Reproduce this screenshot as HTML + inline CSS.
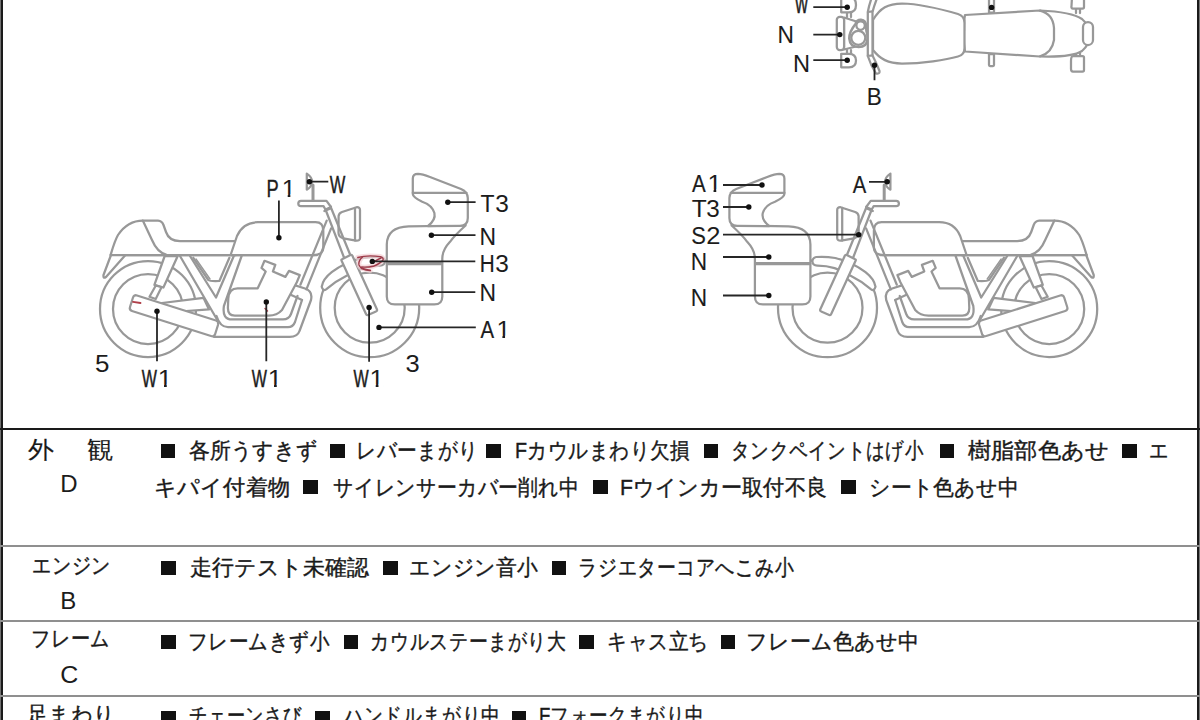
<!DOCTYPE html>
<html lang="ja"><head><meta charset="utf-8"><title>inspection</title>
<style>
html,body{margin:0;padding:0;background:#fff;}
body{width:1200px;height:720px;position:relative;overflow:hidden;font-family:"Liberation Sans",sans-serif;color:#1a1a1a;}
.t{position:absolute;white-space:nowrap;font-size:22px;line-height:22px;transform-origin:0 0;-webkit-text-stroke:0.4px #1a1a1a;}
.sq{position:absolute;width:14.5px;height:13.5px;background:#111;}
.hl{position:absolute;left:0;width:1200px;height:2px;background:#8f8f8f;}
.lb{position:absolute;white-space:nowrap;font-size:24px;line-height:24px;color:#1c1c1c;transform-origin:0 0;}
</style></head><body>

<div style="position:absolute;left:0;top:0;width:1px;height:720px;background:#707070"></div>
<div style="position:absolute;left:1px;top:0;width:2px;height:720px;background:#1a1a1a"></div>
<div style="position:absolute;left:1197px;top:0;width:2px;height:720px;background:#1a1a1a"></div>
<div style="position:absolute;left:1199px;top:0;width:1px;height:720px;background:#777"></div>
<div style="position:absolute;left:0;top:427.8px;width:1200px;height:2.4px;background:#1a1a1a"></div>
<div class="hl" style="top:544.5px"></div>
<div class="hl" style="top:619.5px"></div>
<div class="hl" style="top:695px"></div>
<span class="t" id="t0" style="left:189.05px;top:440.00px;transform:scaleX(0.9474)">各所うすきず</span>
<span class="t" id="t1" style="left:355.84px;top:440.00px;transform:scaleX(0.8957)">レバーまがり</span>
<span class="t" id="t2" style="left:515.21px;top:440.00px;transform:scaleX(0.8946)">Fカウルまわり欠損</span>
<span class="t" id="t3" style="left:731.02px;top:440.00px;transform:scaleX(0.8389)">タンクペイントはげ小</span>
<span class="t" id="t4" style="left:968.00px;top:440.00px;transform:scaleX(1.0568)">樹脂部色あせ</span>
<span class="t" id="t5" style="left:1149.15px;top:440.00px;transform:scaleX(0.8713)">エ</span>
<span class="t" id="t6" style="left:153.99px;top:477.00px;transform:scaleX(1.0059)">キパイ付着物</span>
<span class="t" id="t7" style="left:332.62px;top:477.00px;transform:scaleX(0.9039)">サイレンサーカバー削れ中</span>
<span class="t" id="t8" style="left:620.06px;top:477.00px;transform:scaleX(0.9599)">Fウインカー取付不良</span>
<span class="t" id="t9" style="left:869.15px;top:477.00px;transform:scaleX(0.9474)">シート色あせ中</span>
<span class="t" id="t10" style="left:189.80px;top:557.00px;transform:scaleX(0.9972)">走行テスト未確認</span>
<span class="t" id="t11" style="left:409.29px;top:557.00px;transform:scaleX(0.9475)">エンジン音小</span>
<span class="t" id="t12" style="left:578.11px;top:557.00px;transform:scaleX(0.8589)">ラジエターコアへこみ小</span>
<span class="t" id="t13" style="left:187.58px;top:631.00px;transform:scaleX(0.8878)">フレームきず小</span>
<span class="t" id="t14" style="left:370.08px;top:631.00px;transform:scaleX(0.8594)">カウルステーまがり大</span>
<span class="t" id="t15" style="left:606.98px;top:631.00px;transform:scaleX(0.8936)">キャス立ち</span>
<span class="t" id="t16" style="left:746.09px;top:631.00px;transform:scaleX(0.9545)">フレーム色あせ中</span>
<span class="t" id="t17" style="left:189.17px;top:705.00px;transform:scaleX(0.8260)">チェーンさび</span>
<span class="t" id="t18" style="left:344.14px;top:705.00px;transform:scaleX(0.8521)">ハンドルまがり中</span>
<span class="t" id="t19" style="left:539.31px;top:705.00px;transform:scaleX(0.8421)">Fフォークまがり中</span>
<span class="t" id="t20" style="left:28.42px;top:437.50px;transform:scaleX(1.0846);font-size:24px;line-height:24px;-webkit-text-stroke:0.15px #1a1a1a">外</span>
<span class="t" id="t21" style="left:86.82px;top:438.00px;transform:scaleX(1.0936);font-size:24px;line-height:24px;-webkit-text-stroke:0.15px #1a1a1a">観</span>
<span class="t" id="t22" style="left:32.10px;top:555.00px;transform:scaleX(0.8621)">エンジン</span>
<span class="t" id="t23" style="left:31.26px;top:628.00px;transform:scaleX(0.8721)">フレーム</span>
<span class="t" id="t24" style="left:27.31px;top:704.00px;transform:scaleX(0.9690)">足まわり</span>
<div class="sq" style="left:160.5px;top:444.0px"></div>
<div class="sq" style="left:330.0px;top:444.0px"></div>
<div class="sq" style="left:486.0px;top:444.0px"></div>
<div class="sq" style="left:703.8px;top:444.0px"></div>
<div class="sq" style="left:939.5px;top:444.0px"></div>
<div class="sq" style="left:1122.0px;top:444.0px"></div>
<div class="sq" style="left:303.0px;top:480.0px"></div>
<div class="sq" style="left:593.0px;top:480.0px"></div>
<div class="sq" style="left:841.0px;top:480.0px"></div>
<div class="sq" style="left:161.0px;top:561.0px"></div>
<div class="sq" style="left:383.3px;top:561.0px"></div>
<div class="sq" style="left:551.6px;top:561.0px"></div>
<div class="sq" style="left:161.0px;top:635.0px"></div>
<div class="sq" style="left:343.9px;top:635.0px"></div>
<div class="sq" style="left:579.3px;top:635.0px"></div>
<div class="sq" style="left:720.7px;top:635.0px"></div>
<div class="sq" style="left:161.0px;top:711.0px"></div>
<div class="sq" style="left:315.0px;top:711.0px"></div>
<div class="sq" style="left:511.9px;top:711.0px"></div>
<svg style="position:absolute;left:0;top:0" width="1200" height="720" viewBox="0 0 1200 720">
<defs>
<g id="bk" fill="#fff" stroke="#989898" stroke-width="2.25" stroke-linejoin="round" stroke-linecap="round">
 <!-- wheels -->
 <circle cx="148" cy="309" r="48"/>
 <circle cx="148" cy="309" r="35"/>
 <circle cx="369.7" cy="307.7" r="49.5"/>
 <circle cx="369.7" cy="307.7" r="35"/>
 <!-- white cover right of V -->
 <path stroke="none" d="M180,256 L262,256 L262,345 L220,340 L218.5,322 Z"/>
 <!-- frame V and battery box -->
 <path fill="none" d="M180,256 L218.5,322"/>
 <path fill="none" d="M190,256 L216,297.5 L233.8,256"/>
 <path fill="none" d="M193.3,257.8 L208.3,280 Q210,281.5 219.4,281 L229.4,257.8"/>
 <path fill="none" stroke-width="1.4" d="M196,259 L210,279"/>
 <!-- shock -->
 <path d="M164.7,256 L177.7,256 L163.4,287.5 L154.4,284.9 Z"/>
 <path d="M155.8,285.5 L161.5,287.3 L155.7,299 L149.5,296.8 Z"/>
 <!-- swingarm -->
 <path d="M150,304.5 L203.5,297.8 L209,309.4 L160,313 Z"/>
 <!-- exhaust pipes -->
 <path fill="none" d="M241.6,256 L223.9,306 Q222,319.4 232,319.4 L283,319.4 Q289,319.4 291,314 L297.5,296"/>
 <path fill="none" d="M216.5,316 Q220,327.2 228,327.2 L288,327.2 Q293,327.2 295,322 L302,300"/>
 <path fill="none" d="M214,336.9 L289.75,336.9 Q297.5,336.9 299.5,331 L311,300 Q313,291 305,288.5 L293,284.6 Q289.5,284 288.5,288 L287,293 L302,300"/>
 <!-- engine -->
 <path d="M264.5,260.8 L275.3,264.9 L272.9,271.5 L285.4,276.9 L289,270.9 L299.8,275.1 L296.8,282.3 L282,310 Q277,315.6 268.7,315.6 L234.8,315.6 Q227.9,315.6 227.9,308 L228.3,298.3 Q229,288.3 237.5,288.3 L257.7,288.3 L265.7,271.5 L261.5,267.9 Z"/>
 <!-- muffler -->
 <path d="M137,295.5 L216,320.5 Q219,321.5 218,325 L215,334.5 Q214,337 211,336 L132,311 Q129,310 130,307 L133,297.5 Q134,294.5 137,295.5 Z"/>
 <!-- seat/tail -->
 <path d="M110.6,255 C113,247 115,240 118,235 C124,226 133,220.6 143,220.6 L158,220.6 Q162,220.8 163.5,225 L166,232 Q169,241 180,241 L236,241 L236,255 Z"/>
 <path fill="none" d="M142.8,220.6 L152,240 Q157,252 166,254.5"/>
 <path d="M111,255 L103.5,275 Q103,279 106,277 L125,255.5"/>
 <path fill="none" d="M110.6,255 L317,255"/>
 <!-- tank -->
 <path d="M230.6,255 L237,236 Q243,222.2 258,222.2 L315.6,222.2 Q323.3,222.2 323.3,230.6 L323.3,248.3 Q323,255 313.3,255 Z"/>
 <!-- down tube -->
 <path fill="none" d="M326.7,220.6 L300.4,284.7"/>
 <path fill="none" d="M331.1,228.3 L306.4,289.4"/>
 <!-- fender -->
 <path d="M321.7,286.7 Q323,279 331.7,272.2 Q345,262 362,258 Q372,256.2 381,257 Q384.8,257.8 384.8,261.5 Q384.5,265.6 380,265.6 Q362,265.5 347,275.6 Q336,281 326.1,289.4 Q323,291.5 321.7,286.7 Z"/>
 <!-- headlight -->
 <path d="M338.6,216 Q339,213 342,212 L356.7,207.2 Q360,207 360,210 L360,238 Q360,241 356,240.6 L343.3,238.3 Q338.5,237 338.5,232.8 Z"/>
 <path fill="none" d="M355,207.8 V240.6"/>
 <!-- fork upper -->
 <path fill="none" d="M325.5,209.5 L344,257.5"/>
 <path fill="none" d="M330.5,206.5 L350.5,255.5"/>
 <path fill="none" d="M324.4,211 L330.5,208.5"/>
 <!-- handlebar -->
 <path d="M301,200.8 L326.5,200.8 L331,207 L325.5,209.5 L323.5,206.2 L301,206.2 A2.7,2.7 0 0 1 301,200.8 Z"/>
 <!-- fork slider -->
 <path d="M342.5,259 L350.5,255 Q352,254.5 352.5,256 L377,309.5 Q377.5,311 376,311.5 L368,315 Q366.5,315.5 366,314 L341.5,260.5 Q341,259.5 342.5,259 Z"/>
 <!-- mirror -->
 <path fill="none" stroke-width="3" d="M313,185 V200"/>
 <path d="M306.8,173.6 Q312.5,177.5 312,182 Q311.5,187.5 306.8,189.6 Z"/>
 <!-- lower fairing -->
 <path d="M408.7,226.3 L465.6,225.5 Q455,235 450,241.8 Q442.3,250 442.3,258.6 L442.3,296.4 Q442.3,304.4 434.3,304.4 L394.8,304.4 Q386.8,304.4 386.8,296.4 L386.8,244.4 Q387,227 408.7,226.3 Z"/>
 <path fill="none" stroke-width="3.2" d="M387.5,263.7 H441.5"/>
 <!-- upper fairing -->
 <path d="M412.8,178.5 Q412.8,173.9 418,173.9 Q422,174 430,177 L461,189 Q467.8,192 467.8,198 L467.8,218 Q467.8,225.8 460,225.8 L427.8,226.1 Q436,220 434.4,213 Q432,205 422.2,201.7 Q412.8,197 412.8,193.9 Z"/>
 <path fill="none" d="M412.8,192.8 H466.5"/>
</g>
</defs>

<g id="top" fill="#fff" stroke="#989898" stroke-width="2.25" stroke-linejoin="round" stroke-linecap="round">
 <!-- rear turn signals -->
 <path fill="none" d="M1076,8 V13 M1080,8 V13 M1076,53 V57 M1080,53 V57"/>
 <path d="M1072,-3 L1084,-3 L1084,7 Q1084,8.5 1082.5,8.5 L1073,8.5 Q1071,8.5 1071.5,6 Z"/>
 <path d="M1073,56 L1082.5,56 Q1084,56 1084,57.5 L1084,70 Q1084,71.5 1082.5,71.5 L1073,71.5 Q1071,71.5 1071,69 L1071,61 Q1071,56 1073,56 Z"/>
 <!-- footpegs -->
 <path d="M989,-3 H994 V12.5 H989 Z"/>
 <path d="M989,54 H994 V65 Q994,66 993,66 H990 Q989,66 989,65 Z"/>
 <!-- tail outer -->
 <path d="M965,15 L1040,10.5 Q1072,12 1082,19 Q1090,26 1090,34 Q1090,44 1082,51 Q1072,57.5 1040,56.5 L965,51.5 Q963,40 964,30 Q964,20 965,15 Z"/>
 <!-- seat back -->
 <path fill="none" d="M1040,10.7 Q1053,14 1054,28 L1054,40 Q1052,53 1040,56.3"/>
 <!-- tail light -->
 <rect x="1083" y="22" width="10" height="23" rx="5"/>
 <!-- tank -->
 <path d="M873,20 C880,8 888,3.5 902,3.5 C922,4 946,10.5 958,14 Q964.5,16 964.5,23 L964.5,48 Q964.5,55 958,56.5 C946,60 922,63.5 902,63.5 C888,63.5 880,59 873,50 Z"/>
 <!-- front turn signals -->
 <path fill="none" d="M847,12 V17 M851,12 V17 M847,50 V54 M851,50 V54"/>
 <path d="M841.2,-3 L849,-3 Q856,-3 856,5 Q856,12.3 849,12.3 L841.2,12.3 Z"/>
 <path d="M841.2,53.8 L849,53.8 Q856,53.8 856,60.5 Q856,67.3 849,67.3 L841.2,67.3 Z"/>
 <!-- fairing -->
 <path d="M844,17.5 L858,22 L858,46 L844,49.5 Z"/>
 <rect x="836.8" y="16.8" width="7.3" height="33.2" rx="3"/>
 <!-- headlight -->
 <path stroke-width="2.6" d="M855.5,24 Q857,19.5 861,19.8 Q866,20.5 866,26 L866.5,31 Q868,35 867.5,39 Q867,47 858.5,47 Q850,47 849.3,38.5 Q849,32 855.5,24 Z"/>
 <circle cx="860.6" cy="25.6" r="4.2"/>
 <circle cx="858.3" cy="37.8" r="7"/>
 <!-- handlebar -->
 <path d="M872,-3 L877.5,-3 Q874,6 872.5,12 L872.5,55.5 L867.8,56 L867.8,12 Q869,5 872,-3 Z"/>
 <path d="M867.8,56 L872.5,55.5 Q876,62 879.5,71 Q880,73.5 877.5,73.5 L876,73.5 Q871,66 867.8,56 Z"/>
 <path fill="none" d="M868,12 L872.3,11.3"/>
</g>
<use href="#bk"/>
<use href="#bk" transform="translate(1197.2,0) scale(-1,1)"/>

<g font-family="Liberation Sans, sans-serif" font-size="24" fill="#1c1c1c" stroke="#1c1c1c" stroke-width="0">
<text transform="translate(266.38,196.90) scale(0.762,1)" stroke-width="0.36">P</text>
<text transform="translate(281.71,196.90) scale(1.048,1)">1</text>
<text transform="translate(329.80,193.20) scale(0.687,1)" stroke-width="0.47">W</text>
<text transform="translate(480.55,211.70) scale(0.954,1)" stroke-width="0.07">T</text>
<text transform="translate(495.18,211.70) scale(1.018,1)">3</text>
<text transform="translate(479.59,245.00) scale(0.954,1)" stroke-width="0.07">N</text>
<text transform="translate(479.78,272.10) scale(0.862,1)" stroke-width="0.21">H</text>
<text transform="translate(495.18,272.10) scale(1.018,1)">3</text>
<text transform="translate(479.59,301.20) scale(0.954,1)" stroke-width="0.07">N</text>
<text transform="translate(480.60,338.20) scale(0.850,1)" stroke-width="0.23">A</text>
<text transform="translate(496.41,338.20) scale(1.048,1)">1</text>
<text transform="translate(94.92,371.80) scale(1.082,1)">5</text>
<text transform="translate(141.80,386.80) scale(0.670,1)" stroke-width="0.50">W</text>
<text transform="translate(157.86,386.80) scale(1.079,1)">1</text>
<text transform="translate(251.80,386.80) scale(0.670,1)" stroke-width="0.50">W</text>
<text transform="translate(267.86,386.80) scale(1.079,1)">1</text>
<text transform="translate(353.50,387.00) scale(0.670,1)" stroke-width="0.50">W</text>
<text transform="translate(369.56,387.00) scale(1.079,1)">1</text>
<text transform="translate(405.44,372.00) scale(1.064,1)">3</text>
<text transform="translate(691.90,191.90) scale(0.856,1)" stroke-width="0.22">A</text>
<text transform="translate(707.49,191.90) scale(1.063,1)">1</text>
<text transform="translate(691.78,217.20) scale(1.023,1)">T</text>
<text transform="translate(706.19,217.20) scale(1.009,1)">3</text>
<text transform="translate(691.29,244.40) scale(0.914,1)" stroke-width="0.13">S</text>
<text transform="translate(706.14,244.40) scale(1.064,1)">2</text>
<text transform="translate(690.71,269.70) scale(0.946,1)" stroke-width="0.08">N</text>
<text transform="translate(690.71,305.90) scale(0.946,1)" stroke-width="0.08">N</text>
<text transform="translate(852.80,193.00) scale(0.844,1)" stroke-width="0.23">A</text>
<text transform="translate(795.00,13.30) scale(0.578,1)" stroke-width="0.63">W</text>
<text transform="translate(777.51,42.80) scale(0.946,1)" stroke-width="0.08">N</text>
<text transform="translate(793.03,72.20) scale(0.985,1)">N</text>
<text transform="translate(866.72,105.40) scale(0.938,1)" stroke-width="0.09">B</text>
<text transform="translate(60.20,492.00) scale(1.000,1)">D</text>
<text transform="translate(60.20,608.70) scale(1.000,1)">B</text>
<text transform="translate(60.16,682.80) scale(1.040,1)">C</text>
</g>
<g fill="#fff">
<rect x="282.03" y="194.40" width="5.66" height="3.6"/>
<rect x="290.36" y="194.40" width="5.24" height="3.6"/>
<rect x="496.73" y="335.70" width="5.66" height="3.6"/>
<rect x="505.06" y="335.70" width="5.24" height="3.6"/>
<rect x="158.18" y="384.30" width="5.83" height="3.6"/>
<rect x="166.76" y="384.30" width="5.40" height="3.6"/>
<rect x="268.18" y="384.30" width="5.83" height="3.6"/>
<rect x="276.76" y="384.30" width="5.40" height="3.6"/>
<rect x="369.88" y="384.50" width="5.83" height="3.6"/>
<rect x="378.46" y="384.50" width="5.40" height="3.6"/>
<rect x="707.80" y="189.40" width="5.74" height="3.6"/>
<rect x="716.26" y="189.40" width="5.32" height="3.6"/>
</g>
<g fill="none" stroke-linecap="round" stroke-linejoin="round">
 <g stroke="#f3d2d6" stroke-width="5" opacity="0.7">
  <path d="M362.5,257 Q358,261 359,265 Q360,267.5 362,268 M361.7,268.2 Q366,270 370.2,270.4 M357.8,257.5 Q367,254.8 380.4,256.6 Q384,258 383,260 Q381,263 373.3,266.3 Q367,267.5 361.7,267"/>
 </g>
 <g stroke="#9e3b4a" stroke-width="1.4">
  <path d="M362.5,257 Q358,261 359,265 Q360,267.5 362,268"/>
  <path d="M361.7,268.4 Q366,270.2 370.2,270.4" stroke-width="1.9"/>
  <path d="M357.8,257.5 Q367,254.8 380.4,256.6 Q384,258 383,260 Q381,263 373.3,266.3 Q367,267.5 361.7,267"/>
  <path d="M373,262 L381,258"/>
 </g>
 <path d="M133,301.8 L140.5,303" stroke="#b0404a" stroke-width="1.8"/>
 <path d="M265,308.5 L267.5,311" stroke="#b0404a" stroke-width="1.4"/>
</g>
<g stroke="#262626" stroke-width="1.8" fill="none">
 <path d="M278.9,200.6 V237.8 M309.4,181.7 H328.3 M447.8,202.2 H475.6 M431.4,235.2 H475.5 M372.3,261.4 H475.3 M431.7,292.2 H475.3 M379,327.4 H475.8 M157,311.3 V361.2 M266.3,302 V361.2 M369.1,307.4 V361.7"/>
 <path d="M723,185 H762 M723,207 H748.8 M723,234.7 H858.7 M723,257 H768.8 M723,295.5 H768.8 M869,181.8 H887.2"/>
 <path d="M813.3,7.2 H847.2 M813.3,34.6 H839.8 M813.3,60.2 H847.2 M874.5,65.2 V80.2"/>
</g>
<g fill="#111">
 <circle cx="278.9" cy="237.8" r="2.7"/><circle cx="309.4" cy="181.7" r="2.7"/><circle cx="447.8" cy="202.2" r="2.7"/>
 <circle cx="431.4" cy="235.2" r="2.7"/><circle cx="372.3" cy="261.4" r="2.7"/><circle cx="431.7" cy="292.2" r="2.7"/>
 <circle cx="379" cy="327.4" r="2.7"/><circle cx="157" cy="311.3" r="2.7"/><circle cx="266.3" cy="302" r="2.7"/><circle cx="369.1" cy="307.4" r="2.7"/>
 <circle cx="762" cy="185" r="2.7"/><circle cx="748.8" cy="207" r="2.7"/><circle cx="858.7" cy="234.7" r="2.7"/>
 <circle cx="768.8" cy="257" r="2.7"/><circle cx="768.8" cy="295.5" r="2.7"/><circle cx="887.2" cy="181.8" r="2.7"/>
 <circle cx="847.2" cy="7.2" r="2.7"/><circle cx="839.8" cy="34.6" r="2.7"/><circle cx="847.2" cy="60.2" r="2.7"/><circle cx="874.5" cy="65.2" r="2.7"/><circle cx="991.6" cy="7.4" r="2.7"/>
</g>

</svg>

</body></html>
